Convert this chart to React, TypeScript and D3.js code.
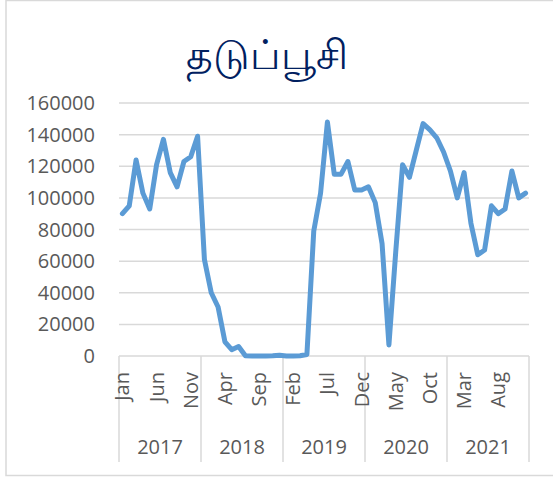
import React from 'react';
import * as d3 from 'd3';

const title = 'தடுப்பூசி';

const years = ['2017', '2018', '2019', '2020', '2021'];
const months = ['Jan', 'Feb', 'Mar', 'Apr', 'May', 'Jun', 'Jul', 'Aug', 'Sep', 'Oct', 'Nov', 'Dec'];

// monthly values Jan 2017 .. Dec 2021
const values2017 = [90000, 95000, 124000, 103000, 93000, 121000, 137000, 116000, 107000, 123000, 126000, 139000];
const values2018 = [61000, 40000, 31000, 9000, 4000, 6000, 200, 0, 0, 0, 100, 500];
const values2019 = [0, 0, 200, 1000, 79000, 103000, 148000, 115000, 115000, 123000, 105000, 105000];
const values2020 = [107000, 97000, 71000, 7000, 66000, 121000, 113000, 130000, 147000, 143000, 138000, 129000];
const values2021 = [117000, 100000, 116000, 84000, 64000, 67000, 95000, 90000, 93000, 117000, 100000, 103000];

const yTicks = [0, 20000, 40000, 60000, 80000, 100000, 120000, 140000, 160000];

const W = 553;
const H = 480;
const margin = { left: 119, right: 529, top: 103, bottom: 356 };
const font = '"Open Sans", "Noto Sans", sans-serif';
const grey = '#d9d9d9';
const textCol = '#595959';

export default function App() {
  const values = [...values2017, ...values2018, ...values2019, ...values2020, ...values2021];
  const data = values.map((v, i) => ({
    i,
    year: years[Math.floor(i / 12)],
    month: months[i % 12],
    v,
  }));

  const x = d3.scaleBand<number>()
    .domain(data.map(d => d.i))
    .range([margin.left, margin.right]);

  const y = d3.scaleLinear()
    .domain([0, 160000])
    .range([margin.bottom, margin.top]);

  const cx = (i: number) => (x(i) as number) + x.bandwidth() / 2;

  const line = d3.line<typeof data[0]>()
    .x(d => cx(d.i))
    .y(d => y(d.v));

  const yearX = d3.scaleBand<string>()
    .domain(years)
    .range([margin.left, margin.right]);

  return (
    <svg width={W} height={H} style={{ position: 'absolute', left: 0, top: 0, background: '#fff' }}>
      <rect x={6} y={0.5} width={W} height={475} fill="#fff" stroke={grey} strokeWidth={1.5} />
      <text x={267} y={69} textAnchor="middle" fontSize={41} fill="#002060" fontFamily={font}>{title}</text>

      { yTicks.map(t => (
        <g key={t}>
          <line x1={margin.left} x2={margin.right} y1={y(t)} y2={y(t)} stroke={grey} strokeWidth={1.5} />
          <text x={95} y={y(t)} dy="0.35em" textAnchor="end" fontSize={20} fill={textCol} fontFamily={font}>{t}</text>
        </g>
      )) }

      { years.map(yr => (
        <line key={'sep' + yr} x1={yearX(yr)} x2={yearX(yr)} y1={margin.bottom} y2={462} stroke={grey} strokeWidth={1.5} />
      )) }
      <line x1={margin.right} x2={margin.right} y1={margin.bottom} y2={462} stroke={grey} strokeWidth={1.5} />

      { data.filter(d => d.i % 5 === 0).map(d => (
        <text key={'m' + d.i}
          transform={`translate(${cx(d.i)},372) rotate(-90)`}
          dy="0.35em" textAnchor="end" fontSize={20} fill={textCol} fontFamily={font}>{d.month}</text>
      )) }

      { years.map(yr => (
        <text key={'y' + yr} x={(yearX(yr) as number) + yearX.bandwidth() / 2} y={454}
          textAnchor="middle" fontSize={20} fill={textCol} fontFamily={font}>{yr}</text>
      )) }

      <path d={line(data) as string} fill="none" stroke="#5b9bd5" strokeWidth={5}
        strokeLinejoin="round" strokeLinecap="round" />
    </svg>
  );
}
